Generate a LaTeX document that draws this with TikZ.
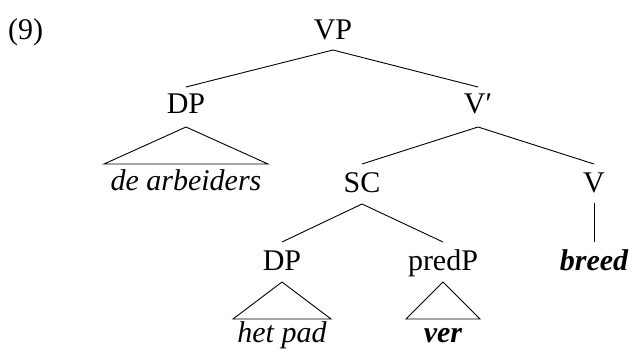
\documentclass[tikz,border=0pt]{standalone}
\usepackage{fontspec}
\setmainfont{Liberation Serif}
\begin{document}
\begin{tikzpicture}[x=1pt,y=-1pt,
  lbl/.style={anchor=base,inner sep=0pt,font=\fontsize{30}{36}\selectfont},
  branch/.style={line width=0.9pt},
  it/.style={lbl,font=\fontsize{30}{36}\selectfont\itshape},
  bi/.style={lbl,font=\fontsize{30}{36}\selectfont\bfseries\itshape}]
\useasboundingbox (0,0) rectangle (632,350);
\node[lbl,anchor=base west] (ex) at (8,40) {(9)};
\node[lbl] (vp) at (333,40) {VP};
\node[lbl] (dpa) at (186,114) {DP};
\node[lbl] (vbar) at (478,114) {V′};
\node[it] (arb) at (186,190) {de arbeiders};
\node[lbl] (sc) at (362,193) {SC};
\node[lbl] (v) at (594,193) {V};
\node[lbl] (dpb) at (282,270) {DP};
\node[lbl] (pred) at (443,270) {predP};
\node[bi] (breed) at (594,270) {breed};
\node[it] (pad) at (282,342) {het pad};
\node[bi] (ver) at (443,342) {ver};
% VP
\draw[branch] ([yshift=27pt]dpa.base) -- ([yshift=-10pt]vp.base) -- ([yshift=27pt]vbar.base);
% DP triangle
\coordinate (ta) at ([yshift=-13pt]dpa.base);
\draw[branch] (ta) -- ++(-82,37) -- ++(164,0) -- cycle;
% V'
\draw[branch] ([yshift=29pt]sc.base) -- ([yshift=-13pt]vbar.base) -- ([yshift=29pt]v.base);
% SC
\draw[branch] ([yshift=28pt]dpb.base) -- ([yshift=-11pt]sc.base) -- ([yshift=28pt]pred.base);
% V
\draw[branch] ([yshift=-10pt]v.base) -- ([yshift=28pt]breed.base);
% lower triangles
\coordinate (tb) at ([yshift=-12pt]dpb.base);
\draw[branch] (tb) -- ++(-49,37) -- ++(98,0) -- cycle;
\coordinate (tc) at ([yshift=-12pt]pred.base);
\draw[branch] (tc) -- ++(-37,37) -- ++(74,0) -- cycle;
\end{tikzpicture}
\end{document}
